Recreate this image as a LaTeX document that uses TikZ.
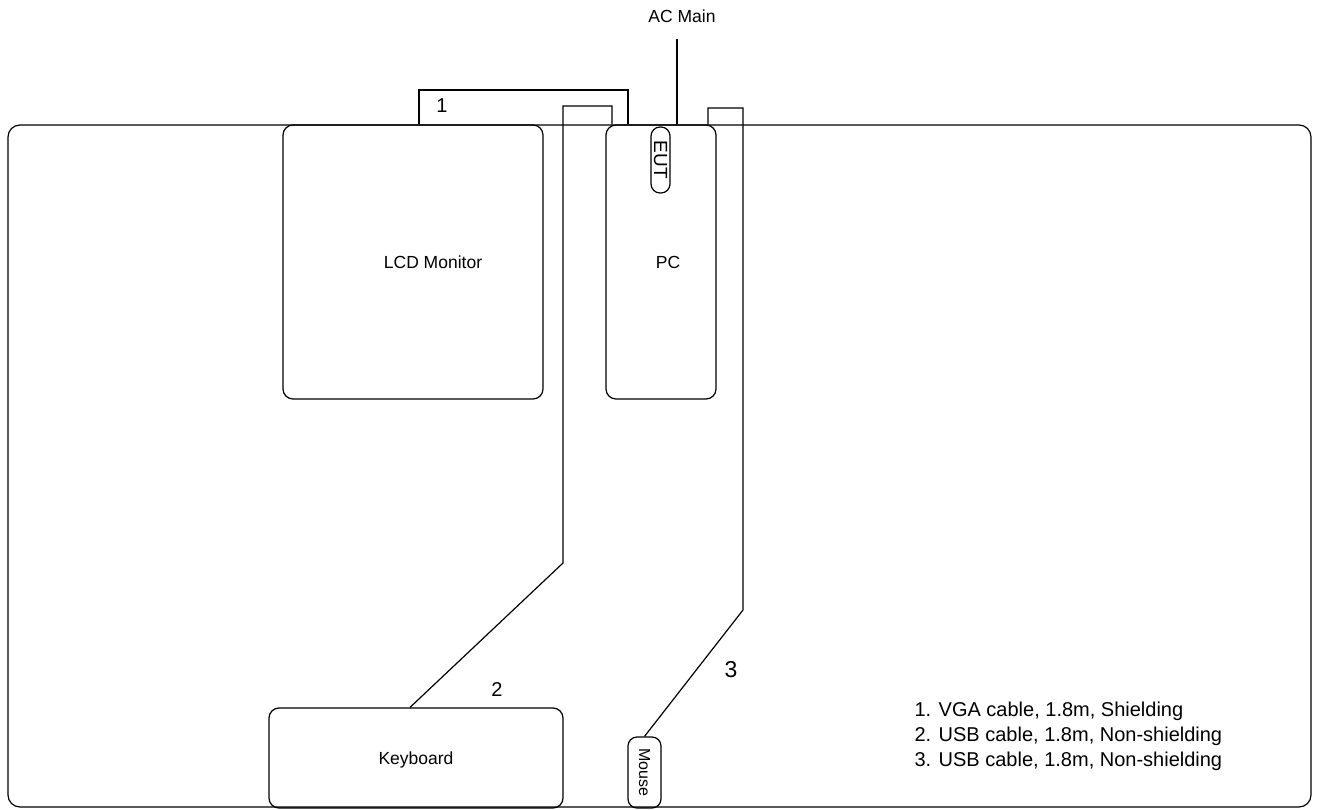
\documentclass[tikz,border=0pt]{standalone}
\usepackage{fontspec}
\setmainfont{Liberation Sans}
\begin{document}
\begin{tikzpicture}[x=1pt,y=-1pt,line width=1.2pt]

        \useasboundingbox (0,0) rectangle (1317,810);

        % table and devices
        \begin{scope}[every node/.style={draw,rounded corners=10pt,inner sep=0pt}]
          \node[rounded corners=12pt,minimum width=1303pt,minimum height=682pt] (table) at (659.5,466) {};
          \node[minimum width=260pt,minimum height=274pt] (monitor) at (413,262) {};
          \node[minimum width=110pt,minimum height=274pt] (pc)      at (661,262) {};
          \node[minimum width=294pt,minimum height=100pt] (keyboard) at (416,758) {};
        \end{scope}

        \begin{scope}[every node/.style={draw,rounded corners=9pt,inner sep=0pt}]
          \node[minimum width=19pt,minimum height=66pt,font=\fontsize{19}{22}\selectfont] (eut) at (660.5,160) {\rotatebox{-90}{EUT}};
          \node[minimum width=33pt,minimum height=71pt,font=\fontsize{16}{18}\selectfont] (mouse) at (644.5,772.5) {\rotatebox{-90}{Mouse}};
        \end{scope}

        % cable bends
        \coordinate (v1) at (419,90);
        \coordinate (v2) at (628,90);
        \coordinate (k1) at (563,106);
        \coordinate (k2) at (612,106);
        \coordinate (k3) at (563,563);
        \coordinate (m1) at (708,108);
        \coordinate (m2) at (743,108);
        \coordinate (m3) at (743,610);
        \coordinate (ac) at (677,39);

        \draw (monitor.north -| v1) -- (v1) -- (v2) -- (pc.north -| v2);
        \draw (pc.north -| k2) -- (k2) -- (k1) -- (k3) -- ([xshift=-6pt]keyboard.north);
        \draw (pc.north -| m1) -- (m1) -- (m2) -- (m3) -- (mouse.north);
        \draw (pc.north -| ac) -- (ac);

        % labels
        \begin{scope}[every node/.style={inner sep=0pt,font=\fontsize{17.5}{21}\selectfont}]
          \node (monitorlbl)  at (433,262) {LCD Monitor};
          \node (pclbl)       at (668,262) {PC};
          \node (keyboardlbl) at (416,760) {Keyboard};
          \node (acmain)      at (682,16)  {AC Main};
          \node[font=\fontsize{20}{24}\selectfont] (n1) at (442,106) {1};
          \node[font=\fontsize{20}{24}\selectfont] (n2) at (497,690) {2};
          \node[font=\fontsize{23}{26}\selectfont] (n3) at (731,670) {3};
          \node[anchor=west,align=left,font=\fontsize{20}{25}\selectfont] (legend) at (914,736)
            {1. VGA cable, 1.8m, Shielding\\
             2. USB cable, 1.8m, Non-shielding\\
             3. USB cable, 1.8m, Non-shielding};
        \end{scope}

      \end{tikzpicture}
\end{document}
